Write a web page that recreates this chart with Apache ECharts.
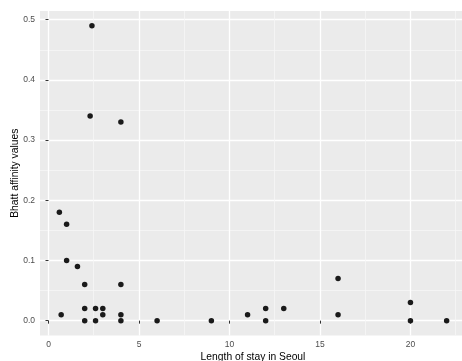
<!DOCTYPE html>
<html><head><meta charset="utf-8">
<script src="https://cdn.jsdelivr.net/npm/echarts@6/dist/echarts.min.js"></script>
<style>html,body{margin:0;padding:0;background:#fff}#c{width:462px;height:361px}</style>
</head><body><div id="c"></div>
<script>
const stayYears = [0.6, 1, 1, 1.6, 2, 0.7, 2, 2, 2.6, 2.6, 3, 3, 4, 4, 4, 6, 2.4, 2.3, 4, 9, 11, 12, 12, 13, 16, 16, 20, 20, 22];
const bhattValues = [0.18, 0.16, 0.10, 0.09, 0.06, 0.01, 0.02, 0.00, 0.02, 0.00, 0.02, 0.01, 0.06, 0.01, 0.00, 0.00, 0.49, 0.34, 0.33, 0.00, 0.01, 0.02, 0.00, 0.02, 0.01, 0.07, 0.03, 0.00, 0.00];
const xTicks = [0, 5, 10, 15, 20];
const xMinor = [2.5, 7.5, 12.5, 17.5, 22.5];
const yTicks = [0, 0.1, 0.2, 0.3, 0.4, 0.5];
const yMinor = [0.05, 0.15, 0.25, 0.35, 0.45];
const xRange = [-0.47, 23.07];
const yRange = [-0.0245, 0.5145];

const points = stayYears.map((x, i) => [x, bhattValues[i]]);
const font = 'Liberation Sans, Arial, sans-serif';
const chart = echarts.init(document.getElementById('c'), null, {renderer: 'canvas'});
const labelStyle = {color: '#4d4d4d', fontSize: 8.5, fontFamily: font};
chart.setOption({
  animation: false,
  grid: {left: 40, top: 11, right: -4, bottom: 25.6, show: true, backgroundColor: '#ebebeb', borderWidth: 0,
         containLabel: false, outerBoundsMode: 'none'},
  xAxis: [{
    type: 'value', min: xRange[0], max: xRange[1],
    axisLine: {show: false},
    axisTick: {show: true, length: 3, lineStyle: {color: '#333', width: 1}, customValues: xTicks},
    axisLabel: Object.assign({margin: 5, customValues: xTicks, formatter: v => String(v)}, labelStyle),
    splitLine: {show: true, lineStyle: {color: '#fff', width: 1.3}},
    name: 'Length of stay in Seoul', nameLocation: 'middle', nameGap: 17, nameMoveOverlap: false,
    nameTextStyle: {color: '#000', fontSize: 10.3, fontFamily: font, verticalAlign: 'top'}
  }, {
    type: 'value', min: xRange[0], max: xRange[1], position: 'bottom',
    axisLine: {show: false}, axisTick: {show: false, customValues: xMinor},
    axisLabel: {show: false, customValues: xMinor},
    splitLine: {show: true, lineStyle: {color: '#f6f6f6', width: 0.8}}
  }],
  yAxis: [{
    type: 'value', min: yRange[0], max: yRange[1],
    axisLine: {show: false},
    axisTick: {show: true, length: 3, lineStyle: {color: '#333', width: 1}, customValues: yTicks},
    axisLabel: Object.assign({margin: 5, customValues: yTicks, formatter: v => v.toFixed(1)}, labelStyle),
    splitLine: {show: true, lineStyle: {color: '#fff', width: 1.3}},
    name: 'Bhatt affinity values', nameLocation: 'middle', nameGap: 25, nameRotate: 90, nameMoveOverlap: false,
    nameTextStyle: {color: '#000', fontSize: 10.3, fontFamily: font, verticalAlign: 'middle'}
  }, {
    type: 'value', min: yRange[0], max: yRange[1], position: 'left',
    axisLine: {show: false}, axisTick: {show: false, customValues: yMinor},
    axisLabel: {show: false, customValues: yMinor},
    splitLine: {show: true, lineStyle: {color: '#f6f6f6', width: 0.8}}
  }],
  series: [{
    type: 'scatter', data: points, xAxisIndex: 0, yAxisIndex: 0,
    symbolSize: 5.5, itemStyle: {color: '#1a1a1a', opacity: 1}
  }]
});
</script></body></html>
